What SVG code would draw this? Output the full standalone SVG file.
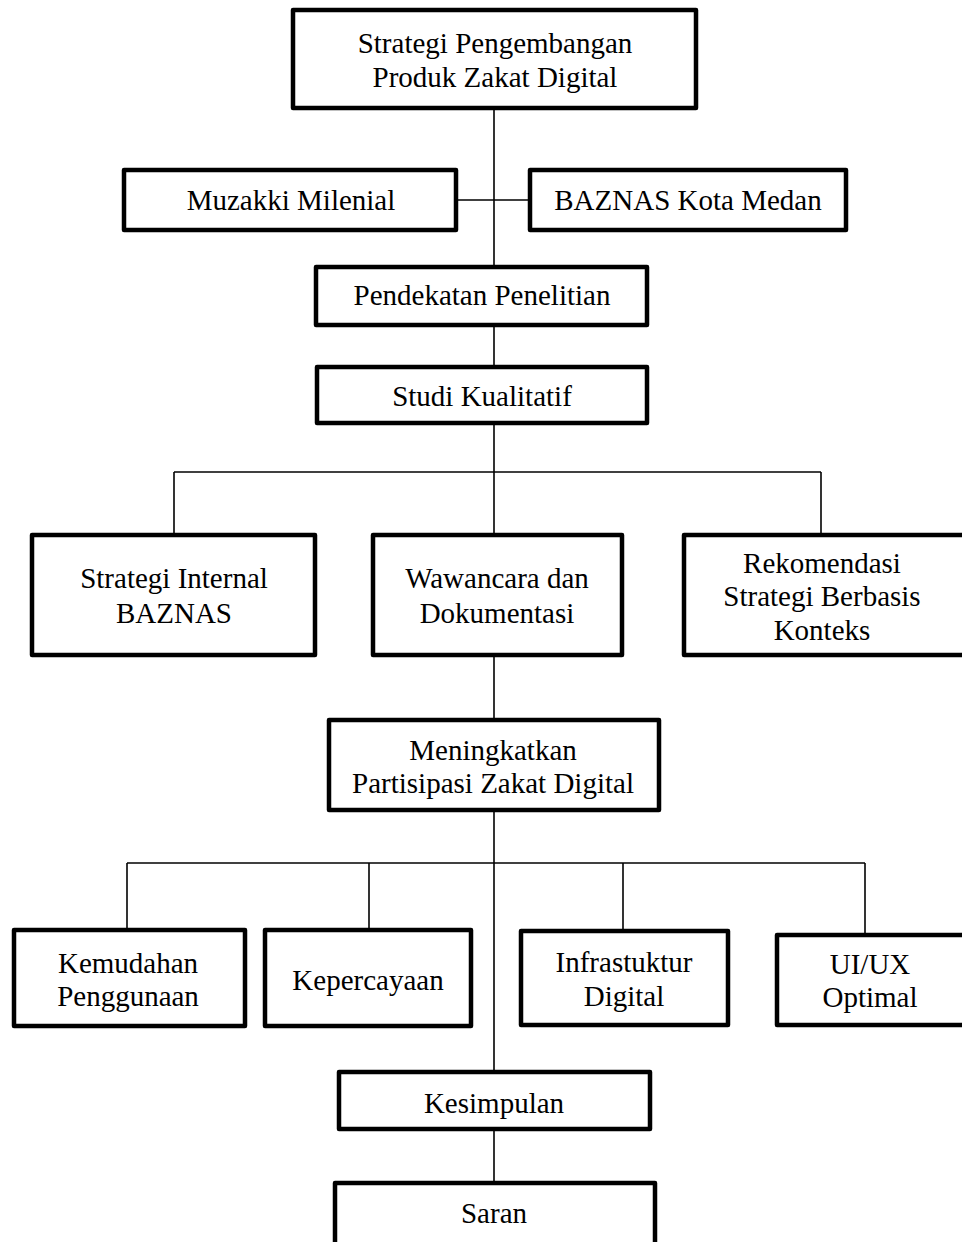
<svg xmlns="http://www.w3.org/2000/svg" width="962" height="1242" viewBox="0 0 962 1242">
<style>
.box{fill:#fff;stroke:#000;stroke-width:4.5;stroke-linejoin:round}
.ln{stroke:#000;stroke-width:1.6;fill:none}
text{font-family:"Liberation Serif","Times New Roman",serif;font-size:29px;fill:#000;text-anchor:middle}
</style>
<rect width="962" height="1242" fill="#fff"/>
<g id="connectors">
<line class="ln" x1="494" y1="110" x2="494" y2="1183"/>
<line class="ln" x1="458" y1="200" x2="528" y2="200"/>
<line class="ln" x1="174" y1="472" x2="821" y2="472"/>
<line class="ln" x1="174" y1="472" x2="174" y2="535"/>
<line class="ln" x1="821" y1="472" x2="821" y2="535"/>
<line class="ln" x1="127" y1="863" x2="865" y2="863"/>
<line class="ln" x1="127" y1="863" x2="127" y2="930"/>
<line class="ln" x1="369" y1="863" x2="369" y2="930"/>
<line class="ln" x1="623" y1="863" x2="623" y2="931"/>
<line class="ln" x1="865" y1="863" x2="865" y2="935"/>
</g>
<g id="n-top"><rect class="box" x="293" y="10" width="403" height="98"/><text x="495" y="53">Strategi Pengembangan</text><text x="495" y="87">Produk Zakat Digital</text></g>
<g id="n-muzakki"><rect class="box" x="124" y="170" width="332" height="60"/><text x="291" y="210">Muzakki Milenial</text></g>
<g id="n-baznas"><rect class="box" x="530" y="170" width="316" height="60"/><text x="688" y="210">BAZNAS Kota Medan</text></g>
<g id="n-pendekatan"><rect class="box" x="316" y="267" width="331" height="58"/><text x="482" y="305">Pendekatan Penelitian</text></g>
<g id="n-studi"><rect class="box" x="317" y="367" width="330" height="56"/><text x="482" y="406">Studi Kualitatif</text></g>
<g id="n-internal"><rect class="box" x="32" y="535" width="283" height="120"/><text x="174" y="588">Strategi Internal</text><text x="174" y="623">BAZNAS</text></g>
<g id="n-wawancara"><rect class="box" x="373" y="535" width="249" height="120"/><text x="497" y="588">Wawancara dan</text><text x="497" y="623">Dokumentasi</text></g>
<g id="n-rekomendasi"><rect class="box" x="684" y="535" width="290" height="120"/><text x="822" y="573">Rekomendasi</text><text x="822" y="606">Strategi Berbasis</text><text x="822" y="640">Konteks</text></g>
<g id="n-meningkatkan"><rect class="box" x="329" y="720" width="330" height="90"/><text x="493" y="760">Meningkatkan</text><text x="493" y="793">Partisipasi Zakat Digital</text></g>
<g id="n-kemudahan"><rect class="box" x="14" y="930" width="231" height="96"/><text x="128" y="973">Kemudahan</text><text x="128" y="1006">Penggunaan</text></g>
<g id="n-kepercayaan"><rect class="box" x="265" y="930" width="206" height="96"/><text x="368" y="990">Kepercayaan</text></g>
<g id="n-infrastuktur"><rect class="box" x="521" y="931" width="207" height="94"/><text x="624" y="972">Infrastuktur</text><text x="624" y="1006">Digital</text></g>
<g id="n-uiux"><rect class="box" x="777" y="935" width="200" height="90"/><text x="870" y="974">UI/UX</text><text x="870" y="1007">Optimal</text></g>
<g id="n-kesimpulan"><rect class="box" x="339" y="1072" width="311" height="57"/><text x="494" y="1113">Kesimpulan</text></g>
<g id="n-saran"><rect class="box" x="335" y="1183" width="320" height="70"/><text x="494" y="1223">Saran</text></g>
</svg>
